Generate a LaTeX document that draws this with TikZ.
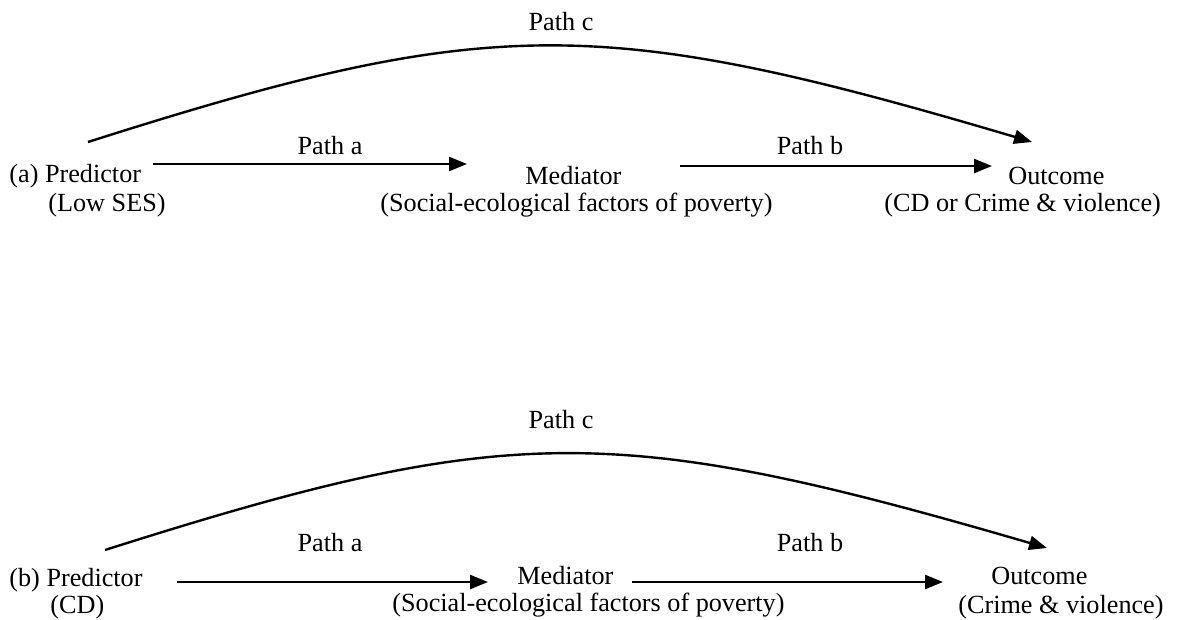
\documentclass[tikz,border=0pt]{standalone}
\usepackage{fontspec}
\setmainfont{Liberation Serif}
\usetikzlibrary{arrows.meta}
\tikzset{
  txt/.style={anchor=west,inner sep=0pt,font=\fontsize{13.1}{14}\selectfont},
  lbl/.style={inner sep=0pt,font=\fontsize{13.1}{14}\selectfont},
  arr/.style={line width=1.2pt,-{Triangle[length=9pt,width=7pt]}}
}
\begin{document}
\begin{tikzpicture}[x=0.5pt,y=-0.5pt]
            \useasboundingbox (0,0) rectangle (1185,620);

            % (a)
            \node[txt] (PA) at (9,176) {(a) Predictor};
            \node[txt] (PAs) at (48,205) {(Low SES)};
            \node[txt] (MA) at (525,176) {Mediator};
            \node[txt] (MAs) at (380,205) {(Social-ecological factors of poverty)};
            \node[txt] (OA) at (1008,176) {Outcome};
            \node[txt] (OAs) at (884,205) {(CD or Crime \& violence)};
            \node[lbl] (cA) at (561,22) {Path c};
            \node[lbl] (aA) at (330,146) {Path a};
            \node[lbl] (bA) at (810,146) {Path b};
            \coordinate (aA0) at (153,164); \coordinate (aA1) at (467,164);
            \coordinate (bA0) at (680,166); \coordinate (bA1) at (992,166);
            \coordinate (cA0) at (88,142); \coordinate (cA1) at (1032,142);

            \draw[arr] (aA0) to (aA1); \draw[arr] (bA0) to (bA1);
            \draw[arr] (cA0) .. controls (490,14) and (600,14) .. (cA1);

            % (b)
            \node[txt] (PB) at (9,580) {(b) Predictor};
            \node[txt] (PBs) at (50,607) {(CD)};
            \node[txt] (MB) at (517,576) {Mediator};
            \node[txt] (MBs) at (392,605) {(Social-ecological factors of poverty)};
            \node[txt] (OB) at (991,576) {Outcome};
            \node[txt] (OBs) at (958,607) {(Crime \& violence)};
            \node[lbl] (cB) at (561,420) {Path c};
            \node[lbl] (aB) at (330,543) {Path a};
            \node[lbl] (bB) at (810,543) {Path b};
            \coordinate (aB0) at (177,582); \coordinate (aB1) at (488,582);
            \coordinate (bB0) at (632,582); \coordinate (bB1) at (943,582);
            \coordinate (cB0) at (105,550); \coordinate (cB1) at (1047,548);

            \draw[arr] (aB0) to (aB1); \draw[arr] (bB0) to (bB1);
            \draw[arr] (cB0) .. controls (508,422) and (615,422) .. (cB1);
\end{tikzpicture}
\end{document}
